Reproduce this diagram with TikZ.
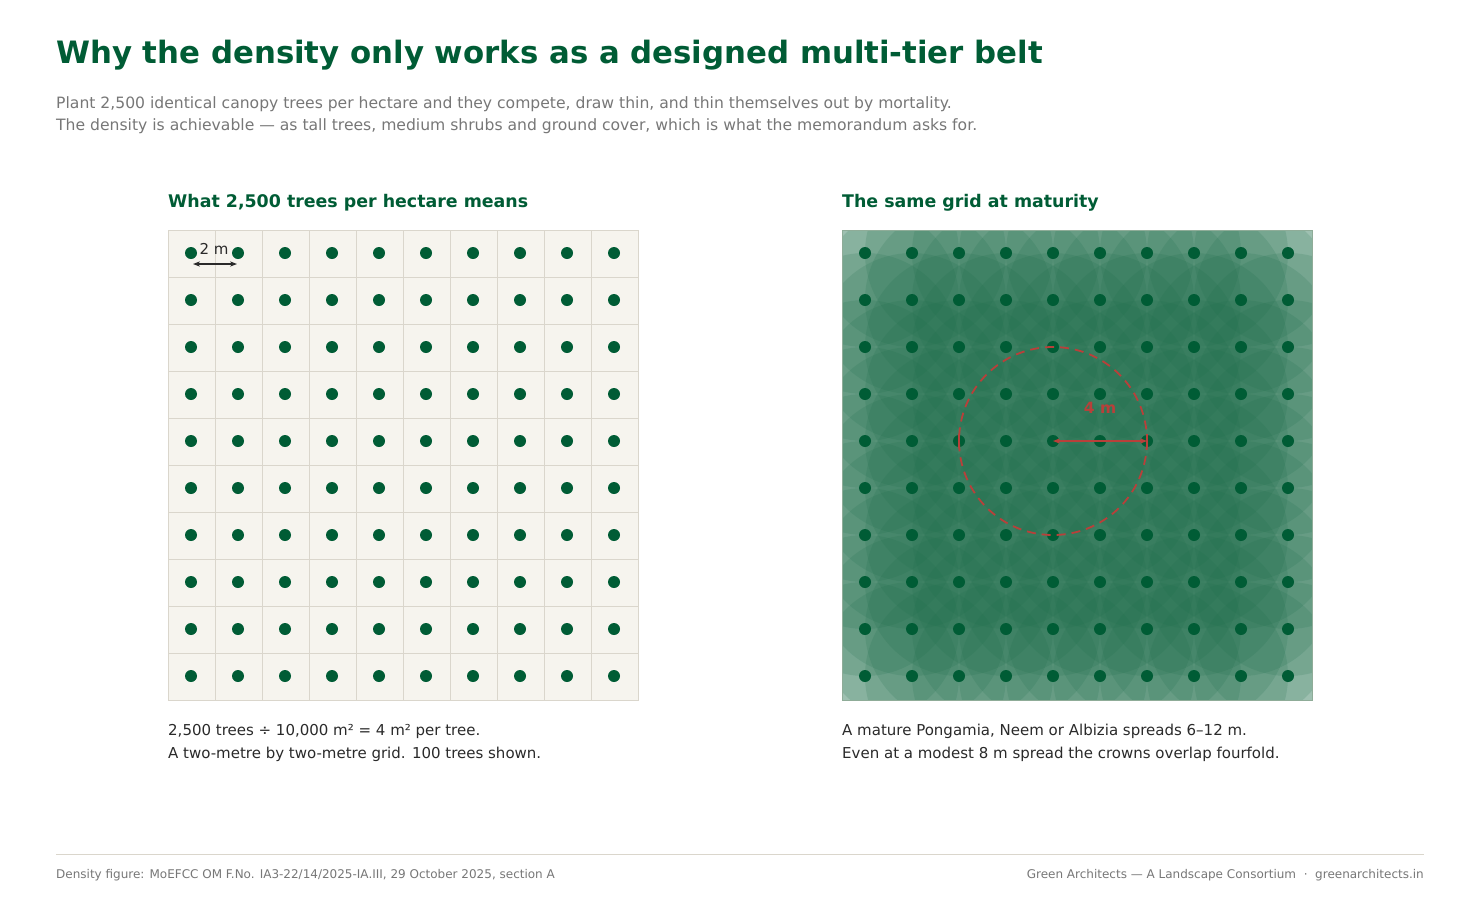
\documentclass[tikz,border=0pt]{standalone}
\usepackage{fontspec}
\setmainfont{DejaVu Sans}
\usetikzlibrary{positioning, arrows.meta}
\definecolor{forest}{HTML}{005C35}
\definecolor{greytxt}{HTML}{777777}
\definecolor{inktxt}{HTML}{2A2A2A}
\definecolor{paper}{HTML}{F6F4EE}
\definecolor{gridln}{HTML}{DAD6CC}
\definecolor{crown}{HTML}{1E6E4B}
\definecolor{redmark}{HTML}{B8403A}

\begin{document}
\begin{tikzpicture}[x=1pt, y=-1pt,
    title/.style={anchor=base west, font=\fontsize{30.8}{36}\selectfont\bfseries, text=forest, inner sep=0},
    sub/.style={anchor=base west, font=\fontsize{15.6}{22}\selectfont, text=greytxt, inner sep=0, align=left},
    head/.style={anchor=base west, font=\fontsize{17.4}{20}\selectfont\bfseries, text=forest, inner sep=0},
    caption/.style={anchor=north west, font=\fontsize{15}{23}\selectfont, text=inktxt, inner sep=0, align=left},
    foot/.style={font=\fontsize{12}{14}\selectfont, text=greytxt, inner sep=0},
    tree/.style={circle, fill=forest, minimum size=12pt, inner sep=0},
    arrow/.style={{Stealth[length=7pt]}-{Stealth[length=7pt]}, thick}
]
\useasboundingbox (0,0) rectangle (1480,900);
\fill[white] (0,0) rectangle (1480,900);

% titles
\node[title] (ttl) at (56,63) {Why the density only works as a designed multi-tier belt};
\node[sub] (sub1) at (56,108) {Plant 2,500 identical canopy trees per hectare and they compete, draw thin, and thin themselves out by mortality.};
\node[sub] (sub2) at (56,130) {The density is achievable — as tall trees, medium shrubs and ground cover, which is what the memorandum asks for.};

% left panel: planting grid
\node[head] (headL) at (168,207) {What 2,500 trees per hectare means};
\fill[paper] (168,230) rectangle (638,700);
\foreach \i in {1,...,9}
    \draw[gridln, line width=1pt] (168+47*\i,230) -- (168+47*\i,700)
                                   (168,230+47*\i) -- (638,230+47*\i);
\draw[gridln, line width=1pt] (168,230) rectangle (638,700);
\foreach \i in {0,...,9}
    \foreach \j in {0,...,9}
        \node[tree] (l-\i-\j) at (191+47*\i,253+47*\j) {};
\coordinate (dimA) at (193,264);
\coordinate (dimB) at (237,264);
\draw[arrow, inktxt, line width=1.2pt] (dimA) -- (dimB);
\node[font=\fontsize{15}{18}\selectfont, text=inktxt, anchor=base, inner sep=0] (dimtxt) at (214,254) {2 m};
\node[caption] (capL) at (168,724) {2,500 trees ÷ 10,000 m² = 4 m² per tree.\\A two-metre by two-metre grid. 100 trees shown.};

% right panel: crowns at maturity
\node[head] (headR) at (842,207) {The same grid at maturity};
\begin{scope}
    \clip (842,230) rectangle (1312,700);
    \fill[white] (842,230) rectangle (1312,700);
    \foreach \i in {0,...,9}
        \foreach \j in {0,...,9}
            \fill[crown, fill opacity=0.17] (865+47*\i,253+47*\j) circle (94);
\end{scope}
\draw[gridln!60!crown, line width=0.6pt] (842,230) rectangle (1312,700);
\foreach \i in {0,...,9}
    \foreach \j in {0,...,9}
        \node[tree] (r-\i-\j) at (865+47*\i,253+47*\j) {};
\draw[redmark, line width=1.8pt, dash pattern=on 9pt off 6pt] (r-4-4.center) circle (94);
\coordinate (rimR) at (1147,441);
\draw[arrow, redmark, line width=1.4pt] (r-4-4.center) -- (rimR);
\draw[redmark, line width=1.8pt] (1147,434) -- (1147,448);
\draw[redmark, line width=1.8pt] (959,434) -- (959,448);
\node[font=\fontsize{15.5}{18}\selectfont\bfseries, text=redmark, anchor=base, inner sep=0] (radtxt) at (1100,413) {4 m};
\node[caption] (capR) at (842,724) {A mature Pongamia, Neem or Albizia spreads 6–12 m.\\Even at a modest 8 m spread the crowns overlap fourfold.};

% footer
\draw[gridln, line width=1pt] (56,854) -- (1424,854);
\node[foot, anchor=base west] (srcL) at (56,878) {Density figure: MoEFCC OM F.No. IA3-22/14/2025-IA.III, 29 October 2025, section A};
\node[foot, anchor=base east] (srcR) at (1424,878) {Green Architects — A Landscape Consortium \ ·\ \ greenarchitects.in};
\end{tikzpicture}
\end{document}
